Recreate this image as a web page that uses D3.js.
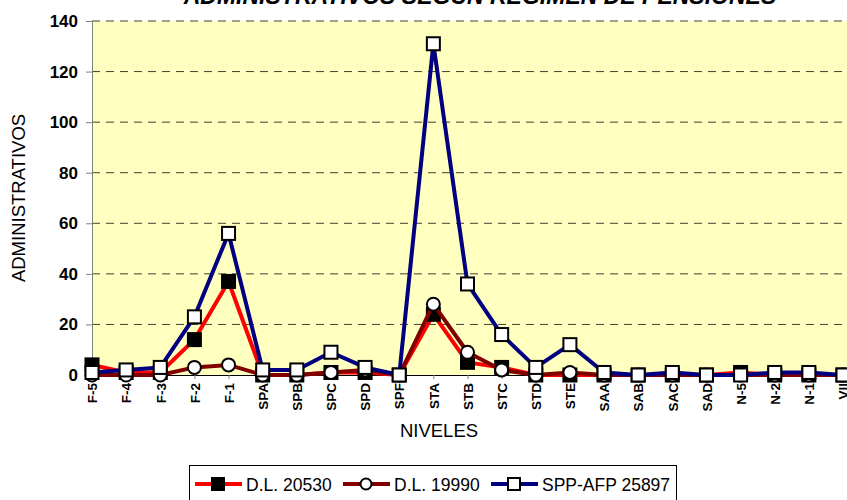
<!DOCTYPE html>
<html>
<head>
<meta charset="utf-8">
<script src="https://cdn.jsdelivr.net/npm/d3@7"></script>
<style>
  body { margin: 0; background: #fff; }
  svg { display: block; font-family: Arial, "Liberation Sans", sans-serif; }
</style>
</head>
<body>
<svg id="chart" width="847" height="500"></svg>
<script>
// Personnel levels along the x axis
const niveles = ["F-5","F-4","F-3","F-2","F-1","SPA","SPB","SPC","SPD","SPF","STA","STB","STC","STD","STE","SAA","SAB","SAC","SAD","N-5","N-2","N-1","VII"];

// Staff counts per pension regime
const dl20530 = [4,1,1,14,37,0,0,1,1,0,24,5,3,0,0,0,0,0,0,1,0,0,0];
const dl19990 = [0,0,0,3,4,0,0,1,2,0,28,9,2,0,1,0,0,0,0,0,0,0,0];
const sppAfp  = [1,2,3,23,56,2,2,9,3,0,131,36,16,3,12,1,0,1,0,0,1,1,0];

const yTicks = [0,20,40,60,80,100,120,140];

const seriesNames = ["D.L. 20530","D.L. 19990","SPP-AFP 25897"];

const series = [
  { name: seriesNames[0], values: dl20530, color: "#ff0000", marker: "square", fill: "#000" },
  { name: seriesNames[1], values: dl19990, color: "#800000", marker: "circle", fill: "#fff" },
  { name: seriesNames[2], values: sppAfp,  color: "#000080", marker: "square", fill: "#fff" }
];

const svg = d3.select("#chart");
const plot = { left: 92, right: 847, top: 21, bottom: 375 };

const x = d3.scalePoint().domain(niveles).range([plot.left, 843]);
const y = d3.scaleLinear().domain([0, 140]).range([plot.bottom, plot.top]);

// Plot background
svg.append("rect")
  .attr("x", plot.left).attr("y", plot.top)
  .attr("width", plot.right - plot.left).attr("height", plot.bottom - plot.top)
  .attr("fill", "#ffffc0");

// Dashed gridlines
svg.append("g").selectAll("line")
  .data(yTicks.filter(d => d > 0))
  .join("line")
  .attr("x1", plot.left).attr("x2", plot.right)
  .attr("y1", d => y(d)).attr("y2", d => y(d))
  .attr("stroke", "#000").attr("stroke-opacity", 0.75)
  .attr("stroke-width", 1)
  .attr("stroke-dasharray", "8,6");

// Y axis
const yAxis = svg.append("g")
  .attr("transform", `translate(${plot.left},0)`)
  .call(d3.axisLeft(y).tickValues(yTicks).tickSize(6).tickPadding(8));
yAxis.select(".domain").attr("stroke", "#808080").attr("stroke-width", 1);
yAxis.selectAll(".tick line").attr("stroke", "#808080");
yAxis.selectAll(".tick text")
  .attr("font-size", 17).attr("font-weight", "bold").attr("fill", "#000")
  .attr("font-family", "Arial, 'Liberation Sans', sans-serif");

// X axis
const xAxis = svg.append("g")
  .attr("transform", `translate(0,${plot.bottom})`)
  .call(d3.axisBottom(x).tickSize(4).tickSizeOuter(0));
xAxis.select(".domain").attr("stroke", "#000").attr("stroke-width", 1);
xAxis.selectAll(".tick line").attr("stroke", "#808080");
xAxis.selectAll(".tick text")
  .attr("font-size", 13.5).attr("font-weight", "bold").attr("fill", "#000")
  .attr("font-family", "Arial, 'Liberation Sans', sans-serif")
  .attr("transform", "rotate(-90)")
  .attr("text-anchor", "end")
  .attr("dy", "0.35em")
  .attr("x", -8).attr("y", 0);

// Series: line, then markers
const line = d3.line().x((d, i) => x(niveles[i])).y(d => y(d));
series.forEach(s => {
  const g = svg.append("g");
  g.append("path")
    .attr("d", line(s.values))
    .attr("fill", "none")
    .attr("stroke", s.color)
    .attr("stroke-width", 4)
    .attr("stroke-linejoin", "round");
  if (s.marker === "square") {
    g.selectAll("rect").data(s.values).join("rect")
      .attr("x", (d, i) => x(niveles[i]) - 6.5)
      .attr("y", d => y(d) - 6.5)
      .attr("width", 13).attr("height", 13)
      .attr("fill", s.fill).attr("stroke", "#000").attr("stroke-width", 2);
  } else {
    g.selectAll("circle").data(s.values).join("circle")
      .attr("cx", (d, i) => x(niveles[i]))
      .attr("cy", d => y(d))
      .attr("r", 6.5)
      .attr("fill", s.fill).attr("stroke", "#000").attr("stroke-width", 2);
  }
});

// Title
svg.append("text")
  .attr("x", 480).attr("y", 4)
  .attr("text-anchor", "middle")
  .attr("font-size", 23).attr("font-weight", "bold").attr("font-style", "italic")
  .text("ADMINISTRATIVOS SEGÚN RÉGIMEN DE PENSIONES");

// Axis titles
svg.append("text")
  .attr("x", 439).attr("y", 437)
  .attr("text-anchor", "middle")
  .attr("font-size", 18.5)
  .text("NIVELES");

svg.append("text")
  .attr("transform", "translate(25,198) rotate(-90)")
  .attr("text-anchor", "middle")
  .attr("font-size", 18.5)
  .text("ADMINISTRATIVOS");

// Legend
const legend = svg.append("g");
legend.append("rect")
  .attr("x", 189.5).attr("y", 465.5).attr("width", 487).attr("height", 40)
  .attr("fill", "#fff").attr("stroke", "#000").attr("stroke-width", 1);
const legendX = [195, 343, 491];
series.forEach((s, i) => {
  const lx = legendX[i], ly = 484;
  legend.append("line")
    .attr("x1", lx).attr("x2", lx + 47).attr("y1", ly).attr("y2", ly)
    .attr("stroke", s.color).attr("stroke-width", 4);
  if (s.marker === "square") {
    legend.append("rect")
      .attr("x", lx + 17).attr("y", ly - 6).attr("width", 12).attr("height", 12)
      .attr("fill", s.fill).attr("stroke", "#000").attr("stroke-width", 2);
  } else {
    legend.append("circle")
      .attr("cx", lx + 23).attr("cy", ly).attr("r", 5.5)
      .attr("fill", s.fill).attr("stroke", "#000").attr("stroke-width", 2);
  }
  legend.append("text")
    .attr("x", lx + 51).attr("y", ly + 6.5)
    .attr("font-size", 17.5)
    .text(s.name);
});
</script>
</body>
</html>
